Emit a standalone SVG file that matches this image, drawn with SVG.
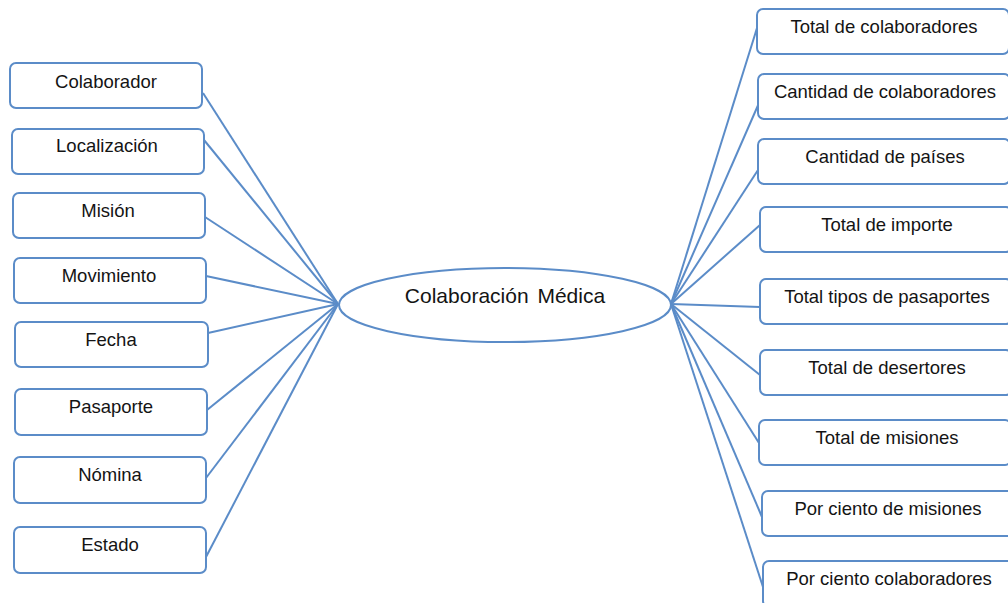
<svg xmlns="http://www.w3.org/2000/svg" width="1008" height="603" viewBox="0 0 1008 603">
  <style>
    .box { fill: #ffffff; stroke: #5b8cc8; stroke-width: 2; }
    .hub { fill: #ffffff; stroke: #5b8cc8; stroke-width: 2; }
    .link { stroke: #5b8cc8; stroke-width: 2; fill: none; }
    .lbl { font-family: "Liberation Sans", Arial, sans-serif; font-size: 18.5px; fill: #141414; text-anchor: middle; }
    .hubl { font-family: "Liberation Sans", Arial, sans-serif; font-size: 21px; fill: #141414; text-anchor: middle; word-spacing: 3px; }
  </style>
  <rect width="1008" height="603" fill="#ffffff"/>

  <!-- connectors from the central ellipse to each attribute -->
  <g id="connectors">
    <line class="link" x1="338" y1="304" x2="203" y2="93"/>
    <line class="link" x1="338" y1="304" x2="204" y2="140"/>
    <line class="link" x1="338" y1="304" x2="205" y2="217"/>
    <line class="link" x1="338" y1="304" x2="206" y2="276"/>
    <line class="link" x1="338" y1="304" x2="208" y2="333"/>
    <line class="link" x1="338" y1="304" x2="207" y2="410"/>
    <line class="link" x1="338" y1="304" x2="206" y2="478"/>
    <line class="link" x1="338" y1="304" x2="206" y2="557"/>

    <line class="link" x1="671" y1="304" x2="757" y2="28"/>
    <line class="link" x1="671" y1="304" x2="759" y2="103"/>
    <line class="link" x1="671" y1="304" x2="758" y2="170"/>
    <line class="link" x1="671" y1="304" x2="760" y2="225"/>
    <line class="link" x1="671" y1="304" x2="760" y2="307"/>
    <line class="link" x1="671" y1="304" x2="760" y2="375"/>
    <line class="link" x1="671" y1="304" x2="759" y2="443"/>
    <line class="link" x1="671" y1="304" x2="762" y2="517"/>
    <line class="link" x1="671" y1="304" x2="763" y2="587"/>
  </g>

  <!-- central concept -->
  <g id="colaboracion-medica">
    <ellipse class="hub" cx="505" cy="305" rx="166" ry="37"/>
    <text class="hubl" x="505" y="303">Colaboración Médica</text>
  </g>

  <!-- left column: dimensions -->
  <g id="colaborador">
    <rect class="box" x="10" y="63" width="192" height="45" rx="6"/>
    <text class="lbl" x="106" y="88">Colaborador</text>
  </g>
  <g id="localizacion">
    <rect class="box" x="12" y="129" width="192" height="45" rx="6"/>
    <text class="lbl" x="107" y="152">Localización</text>
  </g>
  <g id="mision">
    <rect class="box" x="13" y="193" width="192" height="45" rx="6"/>
    <text class="lbl" x="108" y="217">Misión</text>
  </g>
  <g id="movimiento">
    <rect class="box" x="14" y="258" width="192" height="45" rx="6"/>
    <text class="lbl" x="109" y="282">Movimiento</text>
  </g>
  <g id="fecha">
    <rect class="box" x="15" y="322" width="193" height="45" rx="6"/>
    <text class="lbl" x="111" y="346">Fecha</text>
  </g>
  <g id="pasaporte">
    <rect class="box" x="15" y="389" width="192" height="46" rx="6"/>
    <text class="lbl" x="111" y="413">Pasaporte</text>
  </g>
  <g id="nomina">
    <rect class="box" x="14" y="457" width="192" height="46" rx="6"/>
    <text class="lbl" x="110" y="481">Nómina</text>
  </g>
  <g id="estado">
    <rect class="box" x="14" y="527" width="192" height="46" rx="6"/>
    <text class="lbl" x="110" y="551">Estado</text>
  </g>

  <!-- right column: measures -->
  <g id="total-colaboradores">
    <rect class="box" x="757" y="9" width="252" height="45" rx="6"/>
    <text class="lbl" x="884" y="33">Total de colaboradores</text>
  </g>
  <g id="cantidad-colaboradores">
    <rect class="box" x="758" y="74" width="252" height="45" rx="6"/>
    <text class="lbl" x="885" y="98">Cantidad de colaboradores</text>
  </g>
  <g id="cantidad-paises">
    <rect class="box" x="758" y="139" width="252" height="45" rx="6"/>
    <text class="lbl" x="885" y="163">Cantidad de países</text>
  </g>
  <g id="total-importe">
    <rect class="box" x="760" y="207" width="252" height="45" rx="6"/>
    <text class="lbl" x="887" y="231">Total de importe</text>
  </g>
  <g id="total-tipos-pasaportes">
    <rect class="box" x="760" y="279" width="252" height="45" rx="6"/>
    <text class="lbl" x="887" y="303">Total tipos de pasaportes</text>
  </g>
  <g id="total-desertores">
    <rect class="box" x="760" y="350" width="252" height="45" rx="6"/>
    <text class="lbl" x="887" y="374">Total de desertores</text>
  </g>
  <g id="total-misiones">
    <rect class="box" x="759" y="420" width="252" height="45" rx="6"/>
    <text class="lbl" x="887" y="444">Total de misiones</text>
  </g>
  <g id="por-ciento-misiones">
    <rect class="box" x="762" y="491" width="252" height="45" rx="6"/>
    <text class="lbl" x="888" y="515">Por ciento de misiones</text>
  </g>
  <g id="por-ciento-colaboradores">
    <rect class="box" x="763" y="561" width="252" height="46" rx="6"/>
    <text class="lbl" x="889" y="585">Por ciento colaboradores</text>
  </g>
</svg>
